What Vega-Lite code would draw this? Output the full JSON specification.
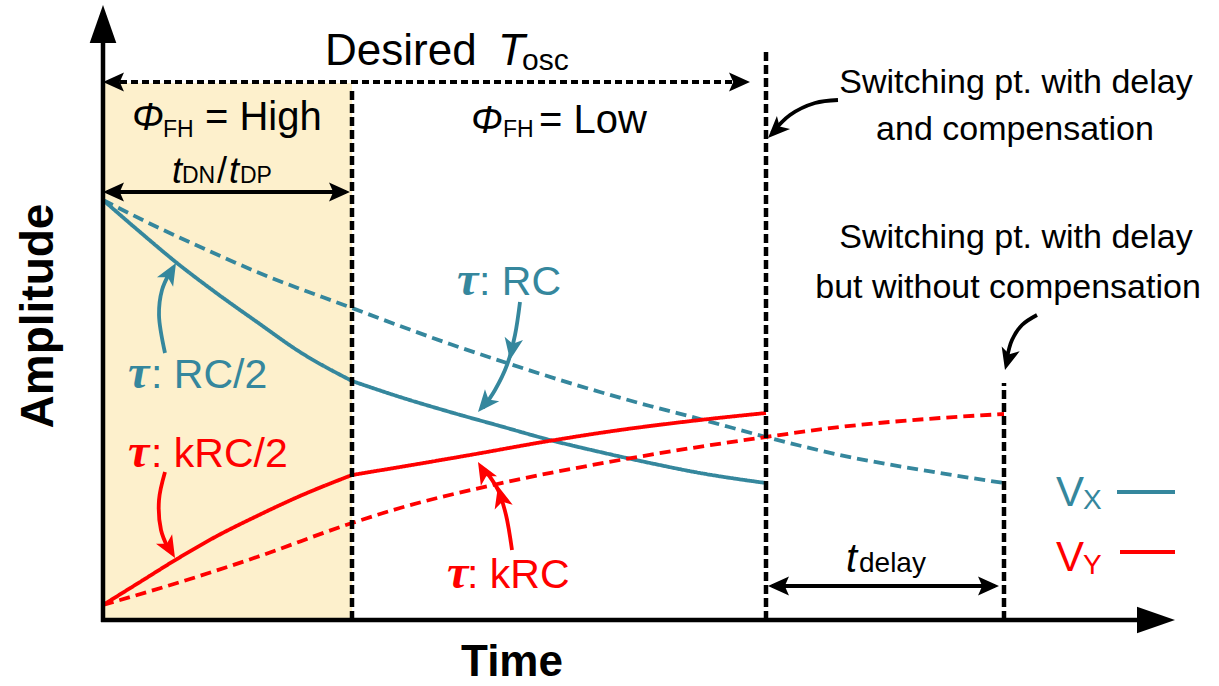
{
 "$schema": "https://vega.github.io/schema/vega-lite/v6.json",
 "width": 1219, "height": 686,
 "autosize": {"type": "none"},
 "padding": 0,
 "background": "white",
 "config": {"view": {"stroke": null}},
 "datasets": {
  "bg": [{"t": 0, "t2": 249, "a": 0, "a2": 537}],
  "curves": [
   {"id": "Xs1", "grp": "X", "sty": "solid", "t": 0, "a": 420},
   {"id": "Xs1", "grp": "X", "sty": "solid", "t": 37, "a": 388},
   {"id": "Xs1", "grp": "X", "sty": "solid", "t": 74, "a": 357},
   {"id": "Xs1", "grp": "X", "sty": "solid", "t": 112, "a": 328},
   {"id": "Xs1", "grp": "X", "sty": "solid", "t": 154, "a": 298},
   {"id": "Xs1", "grp": "X", "sty": "solid", "t": 197, "a": 268},
   {"id": "Xs1", "grp": "X", "sty": "solid", "t": 249, "a": 239},
   {"id": "Xs2", "grp": "X", "sty": "solid", "t": 249, "a": 239},
   {"id": "Xs2", "grp": "X", "sty": "solid", "t": 297, "a": 223},
   {"id": "Xs2", "grp": "X", "sty": "solid", "t": 347, "a": 208},
   {"id": "Xs2", "grp": "X", "sty": "solid", "t": 397, "a": 194},
   {"id": "Xs2", "grp": "X", "sty": "solid", "t": 447, "a": 180},
   {"id": "Xs2", "grp": "X", "sty": "solid", "t": 497, "a": 168},
   {"id": "Xs2", "grp": "X", "sty": "solid", "t": 547, "a": 157},
   {"id": "Xs2", "grp": "X", "sty": "solid", "t": 597, "a": 147},
   {"id": "Xs2", "grp": "X", "sty": "solid", "t": 663, "a": 137},
   {"id": "Xd", "grp": "X", "sty": "dash", "t": 0, "a": 420},
   {"id": "Xd", "grp": "X", "sty": "dash", "t": 54, "a": 393},
   {"id": "Xd", "grp": "X", "sty": "dash", "t": 104, "a": 370},
   {"id": "Xd", "grp": "X", "sty": "dash", "t": 154, "a": 348},
   {"id": "Xd", "grp": "X", "sty": "dash", "t": 249, "a": 312},
   {"id": "Xd", "grp": "X", "sty": "dash", "t": 297, "a": 294},
   {"id": "Xd", "grp": "X", "sty": "dash", "t": 347, "a": 276},
   {"id": "Xd", "grp": "X", "sty": "dash", "t": 407, "a": 256},
   {"id": "Xd", "grp": "X", "sty": "dash", "t": 457, "a": 240},
   {"id": "Xd", "grp": "X", "sty": "dash", "t": 497, "a": 228},
   {"id": "Xd", "grp": "X", "sty": "dash", "t": 547, "a": 214},
   {"id": "Xd", "grp": "X", "sty": "dash", "t": 597, "a": 201},
   {"id": "Xd", "grp": "X", "sty": "dash", "t": 663, "a": 183},
   {"id": "Xd", "grp": "X", "sty": "dash", "t": 737, "a": 165},
   {"id": "Xd", "grp": "X", "sty": "dash", "t": 837, "a": 147},
   {"id": "Xd", "grp": "X", "sty": "dash", "t": 901, "a": 137},
   {"id": "Ys1", "grp": "Y", "sty": "solid", "t": 0, "a": 15},
   {"id": "Ys1", "grp": "Y", "sty": "solid", "t": 37, "a": 38},
   {"id": "Ys1", "grp": "Y", "sty": "solid", "t": 74, "a": 61},
   {"id": "Ys1", "grp": "Y", "sty": "solid", "t": 114, "a": 84},
   {"id": "Ys1", "grp": "Y", "sty": "solid", "t": 154, "a": 104},
   {"id": "Ys1", "grp": "Y", "sty": "solid", "t": 197, "a": 124},
   {"id": "Ys1", "grp": "Y", "sty": "solid", "t": 249, "a": 145},
   {"id": "Ys2", "grp": "Y", "sty": "solid", "t": 249, "a": 145},
   {"id": "Ys2", "grp": "Y", "sty": "solid", "t": 297, "a": 153},
   {"id": "Ys2", "grp": "Y", "sty": "solid", "t": 367, "a": 165},
   {"id": "Ys2", "grp": "Y", "sty": "solid", "t": 440, "a": 178},
   {"id": "Ys2", "grp": "Y", "sty": "solid", "t": 517, "a": 190},
   {"id": "Ys2", "grp": "Y", "sty": "solid", "t": 597, "a": 200},
   {"id": "Ys2", "grp": "Y", "sty": "solid", "t": 663, "a": 207},
   {"id": "Yd", "grp": "Y", "sty": "dash", "t": 0, "a": 15},
   {"id": "Yd", "grp": "Y", "sty": "dash", "t": 87, "a": 41},
   {"id": "Yd", "grp": "Y", "sty": "dash", "t": 154, "a": 63},
   {"id": "Yd", "grp": "Y", "sty": "dash", "t": 249, "a": 97},
   {"id": "Yd", "grp": "Y", "sty": "dash", "t": 297, "a": 112},
   {"id": "Yd", "grp": "Y", "sty": "dash", "t": 390, "a": 135},
   {"id": "Yd", "grp": "Y", "sty": "dash", "t": 517, "a": 160},
   {"id": "Yd", "grp": "Y", "sty": "dash", "t": 663, "a": 183},
   {"id": "Yd", "grp": "Y", "sty": "dash", "t": 737, "a": 193},
   {"id": "Yd", "grp": "Y", "sty": "dash", "t": 837, "a": 202},
   {"id": "Yd", "grp": "Y", "sty": "dash", "t": 901, "a": 206}
  ],
  "vlines": [
   {"t": 249, "a": 0, "a2": 530},
   {"t": 663, "a": 0, "a2": 572},
   {"t": 901, "a": 0, "a2": 237}
  ],
  "axes": [
   {"t": 0, "t2": 0, "a": -2, "a2": 585},
   {"t": -2, "t2": 1040, "a": 0, "a2": 0}
  ],
  "dotdim": [
   {"t": 6, "t2": 638, "a": 538}
  ],
  "soliddims": [
   {"t": 4, "t2": 243, "a": 428},
   {"t": 669, "t2": 892, "a": 34}
  ],
  "legend": [
   {"grp": "X", "t": 1014, "t2": 1072, "a": 128},
   {"grp": "Y", "t": 1017, "t2": 1072, "a": 68}
  ],
  "notes": [
   {"id": "A1", "grp": "X", "i": 0, "t": 62, "a": 267},
   {"id": "A1", "grp": "X", "i": 1, "t": 56, "a": 305},
   {"id": "A1", "grp": "X", "i": 2, "t": 59, "a": 330},
   {"id": "A1", "grp": "X", "i": 3, "t": 67, "a": 348},
   {"id": "A2", "grp": "Y", "i": 0, "t": 62, "a": 148},
   {"id": "A2", "grp": "Y", "i": 1, "t": 56, "a": 120},
   {"id": "A2", "grp": "Y", "i": 2, "t": 58, "a": 90},
   {"id": "A2", "grp": "Y", "i": 3, "t": 65, "a": 72},
   {"id": "A3", "grp": "X", "i": 0, "t": 417, "a": 318},
   {"id": "A3", "grp": "X", "i": 1, "t": 412, "a": 285},
   {"id": "A3", "grp": "X", "i": 2, "t": 404, "a": 255},
   {"id": "A3", "grp": "X", "i": 3, "t": 392, "a": 230},
   {"id": "A3", "grp": "X", "i": 4, "t": 380, "a": 212},
   {"id": "A4", "grp": "Y", "i": 0, "t": 409, "a": 70},
   {"id": "A4", "grp": "Y", "i": 1, "t": 403, "a": 105},
   {"id": "A4", "grp": "Y", "i": 2, "t": 395, "a": 130},
   {"id": "A4", "grp": "Y", "i": 3, "t": 382, "a": 150},
   {"id": "A5", "grp": "K", "i": 0, "t": 735, "a": 520},
   {"id": "A5", "grp": "K", "i": 1, "t": 712, "a": 517},
   {"id": "A5", "grp": "K", "i": 2, "t": 687, "a": 505},
   {"id": "A5", "grp": "K", "i": 3, "t": 669, "a": 487},
   {"id": "A6", "grp": "K", "i": 0, "t": 934, "a": 305},
   {"id": "A6", "grp": "K", "i": 1, "t": 919, "a": 295},
   {"id": "A6", "grp": "K", "i": 2, "t": 909, "a": 280},
   {"id": "A6", "grp": "K", "i": 3, "t": 904, "a": 262}
  ],
  "heads": [
   {"kind": "axis", "grp": "K", "t": 0, "a": 615, "dir": 0},
   {"kind": "axis", "grp": "K", "t": 1072, "a": 0, "dir": 90},
   {"kind": "dim", "grp": "K", "t": 0, "a": 538, "dir": 270},
   {"kind": "dim", "grp": "K", "t": 647, "a": 538, "dir": 90},
   {"kind": "dim", "grp": "K", "t": 0, "a": 428, "dir": 270},
   {"kind": "dim", "grp": "K", "t": 247, "a": 428, "dir": 90},
   {"kind": "dim", "grp": "K", "t": 665, "a": 34, "dir": 270},
   {"kind": "dim", "grp": "K", "t": 896, "a": 34, "dir": 90},
   {"kind": "note", "grp": "X", "t": 73, "a": 357, "dir": 30},
   {"kind": "note", "grp": "Y", "t": 72, "a": 62, "dir": 150},
   {"kind": "note", "grp": "X", "t": 407, "a": 260, "dir": 190},
   {"kind": "note", "grp": "X", "t": 375, "a": 208, "dir": 220},
   {"kind": "note", "grp": "Y", "t": 395, "a": 134, "dir": 345},
   {"kind": "note", "grp": "Y", "t": 375, "a": 158, "dir": 330},
   {"kind": "note", "grp": "K", "t": 665, "a": 482, "dir": 225},
   {"kind": "note", "grp": "K", "t": 902, "a": 250, "dir": 195}
  ],
  "labels": [
   {"sty": "big", "grp": "K", "txt": "Desired", "t": 222, "a": 555},
   {"sty": "bigI", "grp": "K", "txt": "T", "t": 395, "a": 555},
   {"sty": "sub30", "grp": "K", "txt": "osc", "t": 419, "a": 550},
   {"sty": "midI", "grp": "K", "txt": "Φ", "t": 29, "a": 490},
   {"sty": "sub23", "grp": "K", "txt": "FH", "t": 60, "a": 483},
   {"sty": "mid", "grp": "K", "txt": "= High", "t": 102, "a": 490},
   {"sty": "midI", "grp": "K", "txt": "Φ", "t": 368, "a": 487},
   {"sty": "sub23", "grp": "K", "txt": "FH", "t": 400, "a": 483},
   {"sty": "mid", "grp": "K", "txt": "= Low", "t": 436, "a": 487},
   {"sty": "tI", "grp": "K", "txt": "t", "t": 69, "a": 437},
   {"sty": "sub23", "grp": "K", "txt": "DN", "t": 79, "a": 437},
   {"sty": "slash", "grp": "K", "txt": "/", "t": 114, "a": 437},
   {"sty": "tI", "grp": "K", "txt": "t", "t": 126, "a": 437},
   {"sty": "sub23", "grp": "K", "txt": "DP", "t": 137, "a": 437},
   {"sty": "tI40", "grp": "K", "txt": "t", "t": 743, "a": 48},
   {"sty": "sub28", "grp": "K", "txt": "delay", "t": 756, "a": 48},
   {"sty": "note", "grp": "K", "txt": "Switching pt. with delay", "t": 913, "a": 527},
   {"sty": "note", "grp": "K", "txt": "and compensation", "t": 912, "a": 480},
   {"sty": "note", "grp": "K", "txt": "Switching pt. with delay", "t": 913, "a": 372},
   {"sty": "note", "grp": "K", "txt": "but without compensation", "t": 905, "a": 322},
   {"sty": "tau", "grp": "X", "txt": "τ", "t": 25, "a": 232},
   {"sty": "tauT", "grp": "X", "txt": ": RC/2", "t": 48, "a": 232},
   {"sty": "tau", "grp": "Y", "txt": "τ", "t": 25, "a": 153},
   {"sty": "tauT", "grp": "Y", "txt": ": kRC/2", "t": 48, "a": 153},
   {"sty": "tau", "grp": "X", "txt": "τ", "t": 354, "a": 325},
   {"sty": "tauT", "grp": "X", "txt": ": RC", "t": 376, "a": 325},
   {"sty": "tau", "grp": "Y", "txt": "τ", "t": 344, "a": 32},
   {"sty": "tauT", "grp": "Y", "txt": ": kRC", "t": 364, "a": 32},
   {"sty": "legV", "grp": "X", "txt": "V", "t": 953, "a": 114},
   {"sty": "legS", "grp": "X", "txt": "X", "t": 980, "a": 111},
   {"sty": "legV", "grp": "Y", "txt": "V", "t": 953, "a": 49},
   {"sty": "legS", "grp": "Y", "txt": "Y", "t": 980, "a": 46},
   {"sty": "ylab", "grp": "K", "txt": "Amplitude", "t": -50, "a": 304},
   {"sty": "xlab", "grp": "K", "txt": "Time", "t": 409, "a": -56}
  ]
 },
 "encoding": {
  "x": {"field": "t", "type": "quantitative", "scale": {"domain": [-103, 1116], "nice": false, "zero": false}, "axis": null},
  "y": {"field": "a", "type": "quantitative", "scale": {"domain": [-66, 620], "nice": false, "zero": false}, "axis": null}
 },
 "layer": [
  {"data": {"name": "bg"}, "mark": {"type": "rect", "color": "#fdf0cc"},
   "encoding": {"x2": {"field": "t2"}, "y2": {"field": "a2"}}},
  {"data": {"name": "curves"}, "mark": {"type": "line", "interpolate": "monotone", "strokeWidth": 3.8},
   "encoding": {
    "color": {"field": "grp", "type": "nominal", "scale": {"domain": ["X", "Y", "K"], "range": ["#35879d", "#ff0000", "#000000"]}, "legend": null},
    "strokeDash": {"field": "sty", "type": "nominal", "scale": {"domain": ["solid", "dash"], "range": [[1, 0], [11, 6]]}, "legend": null},
    "detail": {"field": "id"}}},
  {"data": {"name": "vlines"}, "mark": {"type": "rule", "color": "black", "strokeWidth": 4.5, "strokeDash": [9, 4]},
   "encoding": {"y2": {"field": "a2"}}},
  {"data": {"name": "axes"}, "mark": {"type": "rule", "color": "black", "strokeWidth": 4.5},
   "encoding": {"x2": {"field": "t2"}, "y2": {"field": "a2"}}},
  {"data": {"name": "dotdim"}, "mark": {"type": "rule", "color": "black", "strokeWidth": 4, "strokeDash": [7, 4]},
   "encoding": {"x2": {"field": "t2"}}},
  {"data": {"name": "soliddims"}, "mark": {"type": "rule", "color": "black", "strokeWidth": 4},
   "encoding": {"x2": {"field": "t2"}}},
  {"data": {"name": "legend"}, "mark": {"type": "rule", "strokeWidth": 4},
   "encoding": {"x2": {"field": "t2"},
    "color": {"field": "grp", "type": "nominal", "scale": {"domain": ["X", "Y", "K"], "range": ["#35879d", "#ff0000", "#000000"]}, "legend": null}}},
  {"data": {"name": "notes"}, "mark": {"type": "line", "interpolate": "catmull-rom", "strokeWidth": 3.8},
   "encoding": {
    "color": {"field": "grp", "type": "nominal", "scale": {"domain": ["X", "Y", "K"], "range": ["#35879d", "#ff0000", "#000000"]}, "legend": null},
    "detail": {"field": "id"}, "order": {"field": "i", "type": "quantitative"}}},
  {"data": {"name": "heads"}, "transform": [{"filter": "datum.kind === 'axis'"}],
   "mark": {"type": "point", "filled": true, "opacity": 1, "strokeWidth": 0, "shape": "M0,0L0.7,2L-0.7,2Z", "size": 1444, "color": "black"},
   "encoding": {"angle": {"field": "dir", "type": "quantitative", "scale": null}}},
  {"data": {"name": "heads"}, "transform": [{"filter": "datum.kind === 'dim'"}],
   "mark": {"type": "point", "filled": true, "opacity": 1, "strokeWidth": 0, "shape": "M0,0L0.9,2L0,1.6L-0.9,2Z", "size": 440, "color": "black"},
   "encoding": {"angle": {"field": "dir", "type": "quantitative", "scale": null}}},
  {"data": {"name": "heads"}, "transform": [{"filter": "datum.kind === 'note'"}],
   "mark": {"type": "point", "filled": true, "opacity": 1, "strokeWidth": 0, "shape": "M0,0L0.85,2L0,1.5L-0.85,2Z", "size": 480},
   "encoding": {"angle": {"field": "dir", "type": "quantitative", "scale": null},
    "color": {"field": "grp", "type": "nominal", "scale": {"domain": ["X", "Y", "K"], "range": ["#35879d", "#ff0000", "#000000"]}, "legend": null}}},
  {"data": {"name": "labels"}, "transform": [{"filter": "datum.sty === 'big'"}],
   "mark": {"type": "text", "font": "Liberation Sans, sans-serif", "fontSize": 44, "align": "left", "baseline": "alphabetic", "color": "black"},
   "encoding": {"text": {"field": "txt"}}},
  {"data": {"name": "labels"}, "transform": [{"filter": "datum.sty === 'bigI'"}],
   "mark": {"type": "text", "font": "Liberation Sans, sans-serif", "fontSize": 44, "fontStyle": "italic", "align": "left", "baseline": "alphabetic", "color": "black"},
   "encoding": {"text": {"field": "txt"}}},
  {"data": {"name": "labels"}, "transform": [{"filter": "datum.sty === 'sub30'"}],
   "mark": {"type": "text", "font": "Liberation Sans, sans-serif", "fontSize": 30, "align": "left", "baseline": "alphabetic", "color": "black"},
   "encoding": {"text": {"field": "txt"}}},
  {"data": {"name": "labels"}, "transform": [{"filter": "datum.sty === 'mid'"}],
   "mark": {"type": "text", "font": "Liberation Sans, sans-serif", "fontSize": 40, "align": "left", "baseline": "alphabetic", "color": "black"},
   "encoding": {"text": {"field": "txt"}}},
  {"data": {"name": "labels"}, "transform": [{"filter": "datum.sty === 'midI'"}],
   "mark": {"type": "text", "font": "Liberation Sans, sans-serif", "fontSize": 38, "fontStyle": "italic", "align": "left", "baseline": "alphabetic", "color": "black"},
   "encoding": {"text": {"field": "txt"}}},
  {"data": {"name": "labels"}, "transform": [{"filter": "datum.sty === 'sub23'"}],
   "mark": {"type": "text", "font": "Liberation Sans, sans-serif", "fontSize": 23, "align": "left", "baseline": "alphabetic", "color": "black"},
   "encoding": {"text": {"field": "txt"}}},
  {"data": {"name": "labels"}, "transform": [{"filter": "datum.sty === 'tI'"}],
   "mark": {"type": "text", "font": "Liberation Sans, sans-serif", "fontSize": 36, "fontStyle": "italic", "align": "left", "baseline": "alphabetic", "color": "black"},
   "encoding": {"text": {"field": "txt"}}},
  {"data": {"name": "labels"}, "transform": [{"filter": "datum.sty === 'slash'"}],
   "mark": {"type": "text", "font": "Liberation Sans, sans-serif", "fontSize": 36, "align": "left", "baseline": "alphabetic", "color": "black"},
   "encoding": {"text": {"field": "txt"}}},
  {"data": {"name": "labels"}, "transform": [{"filter": "datum.sty === 'tI40'"}],
   "mark": {"type": "text", "font": "Liberation Sans, sans-serif", "fontSize": 40, "fontStyle": "italic", "align": "left", "baseline": "alphabetic", "color": "black"},
   "encoding": {"text": {"field": "txt"}}},
  {"data": {"name": "labels"}, "transform": [{"filter": "datum.sty === 'sub28'"}],
   "mark": {"type": "text", "font": "Liberation Sans, sans-serif", "fontSize": 28, "align": "left", "baseline": "alphabetic", "color": "black"},
   "encoding": {"text": {"field": "txt"}}},
  {"data": {"name": "labels"}, "transform": [{"filter": "datum.sty === 'note'"}],
   "mark": {"type": "text", "font": "Liberation Sans, sans-serif", "fontSize": 34, "align": "center", "baseline": "alphabetic", "color": "black"},
   "encoding": {"text": {"field": "txt"}}},
  {"data": {"name": "labels"}, "transform": [{"filter": "datum.sty === 'tau'"}],
   "mark": {"type": "text", "font": "Liberation Serif, serif", "fontSize": 48, "fontStyle": "italic", "fontWeight": "bold", "align": "left", "baseline": "alphabetic"},
   "encoding": {"text": {"field": "txt"},
    "color": {"field": "grp", "type": "nominal", "scale": {"domain": ["X", "Y", "K"], "range": ["#35879d", "#ff0000", "#000000"]}, "legend": null}}},
  {"data": {"name": "labels"}, "transform": [{"filter": "datum.sty === 'tauT'"}],
   "mark": {"type": "text", "font": "Liberation Sans, sans-serif", "fontSize": 41, "align": "left", "baseline": "alphabetic"},
   "encoding": {"text": {"field": "txt"},
    "color": {"field": "grp", "type": "nominal", "scale": {"domain": ["X", "Y", "K"], "range": ["#35879d", "#ff0000", "#000000"]}, "legend": null}}},
  {"data": {"name": "labels"}, "transform": [{"filter": "datum.sty === 'legV'"}],
   "mark": {"type": "text", "font": "Liberation Sans, sans-serif", "fontSize": 42, "align": "left", "baseline": "alphabetic"},
   "encoding": {"text": {"field": "txt"},
    "color": {"field": "grp", "type": "nominal", "scale": {"domain": ["X", "Y", "K"], "range": ["#35879d", "#ff0000", "#000000"]}, "legend": null}}},
  {"data": {"name": "labels"}, "transform": [{"filter": "datum.sty === 'legS'"}],
   "mark": {"type": "text", "font": "Liberation Sans, sans-serif", "fontSize": 28, "align": "left", "baseline": "alphabetic"},
   "encoding": {"text": {"field": "txt"},
    "color": {"field": "grp", "type": "nominal", "scale": {"domain": ["X", "Y", "K"], "range": ["#35879d", "#ff0000", "#000000"]}, "legend": null}}},
  {"data": {"name": "labels"}, "transform": [{"filter": "datum.sty === 'ylab'"}],
   "mark": {"type": "text", "font": "Liberation Sans, sans-serif", "fontSize": 46, "fontWeight": "bold", "angle": 270, "align": "center", "baseline": "alphabetic", "color": "black"},
   "encoding": {"text": {"field": "txt"}}},
  {"data": {"name": "labels"}, "transform": [{"filter": "datum.sty === 'xlab'"}],
   "mark": {"type": "text", "font": "Liberation Sans, sans-serif", "fontSize": 44, "fontWeight": "bold", "align": "center", "baseline": "alphabetic", "color": "black"},
   "encoding": {"text": {"field": "txt"}}}
 ]
}
